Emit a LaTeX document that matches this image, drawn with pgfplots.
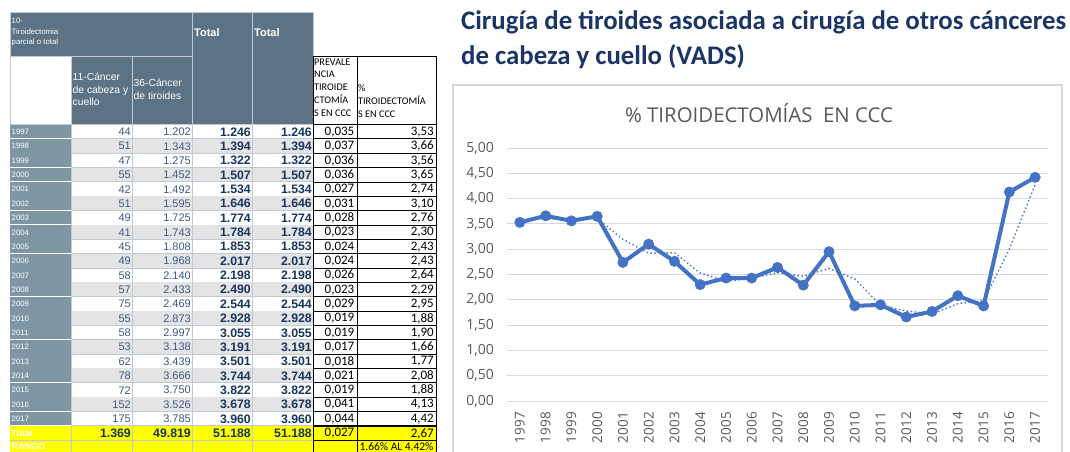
\documentclass[border=0pt]{standalone}
\usepackage{pgfplots}
\pgfplotsset{compat=1.18}
\usepackage{fontspec}
\setmainfont{Liberation Sans}
\newfontfamily\carl{Carlito}
\newfontfamily\osans{Open Sans}
\definecolor{hdr}{HTML}{5B7384}
\definecolor{yearc}{HTML}{7E96A4}
\definecolor{rowg}{HTML}{E4E4E4}
\definecolor{gridc}{HTML}{BFCAD4}
\definecolor{numc}{HTML}{3C5A86}
\definecolor{boldc}{HTML}{17375E}
\definecolor{ttl}{HTML}{1B3567}
\definecolor{xlblue}{HTML}{4472C4}
\definecolor{xlgray}{HTML}{595959}
\definecolor{xlgrid}{HTML}{D9D9D9}
\definecolor{yel}{HTML}{FFFF00}
\begin{document}
\begin{tikzpicture}
\begin{scope}[x=1pt,y=-1pt]
\path[use as bounding box] (0,0) rectangle (1070,452);
\fill[white] (0,0) rectangle (1070,452);
% ---------- table header ----------
\fill[hdr] (10,12) rectangle (192,56);
\fill[hdr] (71,56) rectangle (192,124.5);
\fill[hdr] (192,12) rectangle (313,124.5);
\draw[gridc,line width=0.9pt] (10,56) -- (192,56) (132,56) -- (132,124.5) (71,56) -- (71,124.5)
  (192,12) -- (192,124.5) (252,12) -- (252,124.5) (10,12) rectangle (313,124.5);
\node[anchor=north west,inner sep=0pt,align=left,text=white,font={\fontsize{7.8}{10.5}\selectfont}] at (11.5,18) {10-\\Tiroidectomia\\parcial o total};
\node[anchor=west,inner sep=0pt,text=white,font={\fontsize{11}{13}\selectfont\bfseries}] at (194,33) {Total};
\node[anchor=west,inner sep=0pt,text=white,font={\fontsize{11}{13}\selectfont\bfseries}] at (254,33) {Total};
\node[anchor=west,inner sep=0pt,align=left,text=white,font={\fontsize{10.3}{12.5}\selectfont}] at (72.5,89.5) {11-Cáncer\\de cabeza y\\cuello};
\node[anchor=west,inner sep=0pt,align=left,text=white,font={\fontsize{10.3}{12.5}\selectfont}] at (133.5,89.5) {36-Cáncer\\de tiroides};
\draw[black,line width=0.8pt] (313,56) rectangle (357,124.5) (357,56) rectangle (436,124.5);
\node[anchor=north west,inner sep=0pt,align=left,font={\carl\fontsize{10.2}{12.9}\selectfont}] at (314,58.3) {PREVALE\\NCIA\\TIROIDE\\CTOMÍA\\S EN CCC};
\node[anchor=north west,inner sep=0pt,align=left,font={\carl\fontsize{10.2}{12.9}\selectfont}] at (358,84.1) {\%\\TIROIDECTOMÍA\\S EN CCC};
% ---------- table rows ----------
\foreach \yr/\a/\b/\t/\p/\q [count=\i from 0] in {
1997/44/1.202/1.246/{0,035}/{3,53},
1998/51/1.343/1.394/{0,037}/{3,66},
1999/47/1.275/1.322/{0,036}/{3,56},
2000/55/1.452/1.507/{0,036}/{3,65},
2001/42/1.492/1.534/{0,027}/{2,74},
2002/51/1.595/1.646/{0,031}/{3,10},
2003/49/1.725/1.774/{0,028}/{2,76},
2004/41/1.743/1.784/{0,023}/{2,30},
2005/45/1.808/1.853/{0,024}/{2,43},
2006/49/1.968/2.017/{0,024}/{2,43},
2007/58/2.140/2.198/{0,026}/{2,64},
2008/57/2.433/2.490/{0,023}/{2,29},
2009/75/2.469/2.544/{0,029}/{2,95},
2010/55/2.873/2.928/{0,019}/{1,88},
2011/58/2.997/3.055/{0,019}/{1,90},
2012/53/3.138/3.191/{0,017}/{1,66},
2013/62/3.439/3.501/{0,018}/{1,77},
2014/78/3.666/3.744/{0,021}/{2,08},
2015/72/3.750/3.822/{0,019}/{1,88},
2016/152/3.526/3.678/{0,041}/{4,13},
2017/175/3.785/3.960/{0,044}/{4,42}}{
  \pgfmathsetmacro\rtop{124.5+14.35*\i}
  \pgfmathsetmacro\rbot{\rtop+14.35}
  \pgfmathsetmacro\rmid{\rtop+7.4}
  \fill[yearc] (10,\rtop) rectangle (71,\rbot);
  \ifodd\i\relax \fill[rowg] (71,\rtop) rectangle (313,\rbot); \fi
  \draw[white,line width=1pt] (10,\rbot) -- (71,\rbot);
  \draw[gridc,line width=0.9pt] (71,\rbot) -- (313,\rbot);
  \draw[black,line width=0.8pt] (313,\rtop) rectangle (357,\rbot) (357,\rtop) rectangle (436,\rbot);
  \node[anchor=west,inner sep=0pt,text=white,font={\fontsize{7.8}{9}\selectfont}] at (11.5,\rmid) {\yr};
  \node[anchor=east,inner sep=0pt,text=numc,font={\fontsize{11}{13}\selectfont}] at (131,\rmid) {\a};
  \node[anchor=east,inner sep=0pt,text=numc,font={\fontsize{11}{13}\selectfont}] at (191,\rmid) {\b};
  \node[anchor=east,inner sep=0pt,text=boldc,font={\fontsize{12.3}{13}\selectfont\bfseries}] at (251,\rmid) {\t};
  \node[anchor=east,inner sep=0pt,text=boldc,font={\fontsize{12.3}{13}\selectfont\bfseries}] at (312,\rmid) {\t};
  \node[anchor=east,inner sep=0pt,font={\carl\fontsize{13}{13}\selectfont}] at (354.5,\rmid) {\p};
  \node[anchor=east,inner sep=0pt,font={\carl\fontsize{13}{13}\selectfont}] at (434,\rmid) {\q};
}
\draw[gridc,line width=0.9pt] (71,124.5) -- (71,425.9) (132,124.5) -- (132,425.9) (192,124.5) -- (192,425.9) (252,124.5) -- (252,425.9);
% ---------- total rows ----------
\fill[yel] (10,425.9) rectangle (436,456);
\draw[gridc,line width=0.9pt] (10,440.3) -- (313,440.3) (71,425.9) -- (71,456) (132,425.9) -- (132,456) (192,425.9) -- (192,456) (252,425.9) -- (252,456);
\draw[black,line width=0.8pt] (313,425.9) rectangle (357,440.3) (357,425.9) rectangle (436,440.3) (313,440.3) rectangle (357,456) (357,440.3) rectangle (436,456);
\node[anchor=west,inner sep=0pt,text=white,font={\fontsize{9}{10}\selectfont\bfseries}] at (11.5,433.6) {Total};
\node[anchor=west,inner sep=0pt,text=white,font={\fontsize{9}{10}\selectfont\bfseries}] at (11.5,446.5) {RANGO};
\node[anchor=east,inner sep=0pt,text=boldc,font={\fontsize{12.3}{13}\selectfont\bfseries}] at (131,433.6) {1.369};
\node[anchor=east,inner sep=0pt,text=boldc,font={\fontsize{12.3}{13}\selectfont\bfseries}] at (191,433.6) {49.819};
\node[anchor=east,inner sep=0pt,text=boldc,font={\fontsize{12.3}{13}\selectfont\bfseries}] at (251,433.6) {51.188};
\node[anchor=east,inner sep=0pt,text=boldc,font={\fontsize{12.3}{13}\selectfont\bfseries}] at (312,433.6) {51.188};
\node[anchor=east,inner sep=0pt,font={\carl\fontsize{13}{13}\selectfont}] at (354.5,433.6) {0,027};
\node[anchor=east,inner sep=0pt,font={\carl\fontsize{13}{13}\selectfont}] at (434,433.6) {2,67};
\node[anchor=center,inner sep=0pt,font={\carl\fontsize{11.5}{12}\selectfont}] at (396.5,446.3) {1.66\% AL 4.42\%};
% ---------- main title ----------
\node[anchor=west,inner sep=0pt,text=ttl,font={\carl\fontsize{26.8}{30}\selectfont\bfseries}] at (461,22) {Cirugía de tiroides asociada a cirugía de otros cánceres};
\node[anchor=west,inner sep=0pt,text=ttl,font={\carl\fontsize{26.8}{30}\selectfont\bfseries}] at (461,57) {de cabeza y cuello (VADS)};
% ---------- chart frame ----------
\draw[xlgrid,line width=1.2pt] (453,85) rectangle (1062,470);
\node[anchor=center,inner sep=0pt,text=xlgray,font={\osans\fontsize{20.4}{24}\selectfont}] at (759,113) {\% TIROIDECTOMÍAS~~EN CCC};
\end{scope}
\begin{axis}[
  at={(507pt,-401pt)}, anchor=south west,
  scale only axis, width=541pt, height=253pt,
  xmin=-0.5, xmax=20.5, ymin=0, ymax=5,
  axis line style={draw=none},
  major tick length=0pt,
  ymajorgrids, grid style={xlgrid,line width=1pt},
  ytick={0,0.5,1,1.5,2,2.5,3,3.5,4,4.5,5},
  xtick={0,1,2,3,4,5,6,7,8,9,10,11,12,13,14,15,16,17,18,19,20},
  xticklabels={1997,1998,1999,2000,2001,2002,2003,2004,2005,2006,2007,2008,2009,2010,2011,2012,2013,2014,2015,2016,2017},
  /pgf/number format/.cd, assume math mode=true, fixed, fixed zerofill, precision=2, use comma,
  /pgfplots/.cd,
  yticklabel style={anchor=east,inner sep=0pt,text=xlgray,font={\osans\fontsize{14}{16}\selectfont}},
  yticklabel shift=13pt,
  xticklabel style={rotate=90,anchor=east,inner sep=0pt,text=xlgray,font={\osans\fontsize{13.5}{16}\selectfont}},
  xticklabel shift=11pt,
  clip=false,
]
\addplot[xlblue, line width=4pt, line join=round, mark=*, mark size=5.2pt, mark options={solid,fill=xlblue,draw=xlblue,line width=0.5pt}] coordinates {
(0,3.53) (1,3.66) (2,3.56) (3,3.65) (4,2.74) (5,3.10) (6,2.76) (7,2.30) (8,2.43) (9,2.43) (10,2.64)
(11,2.29) (12,2.95) (13,1.88) (14,1.90) (15,1.66) (16,1.77) (17,2.08) (18,1.88) (19,4.13) (20,4.42)};
\addplot[xlblue, line width=2pt, line cap=round, dash pattern=on 0.01pt off 4pt] coordinates {
(1,3.595) (2,3.61) (3,3.605) (4,3.195) (5,2.92) (6,2.93) (7,2.53) (8,2.365) (9,2.43) (10,2.535)
(11,2.465) (12,2.62) (13,2.415) (14,1.89) (15,1.78) (16,1.715) (17,1.925) (18,1.98) (19,3.005) (20,4.275)};
\end{axis}
\end{tikzpicture}
\end{document}
